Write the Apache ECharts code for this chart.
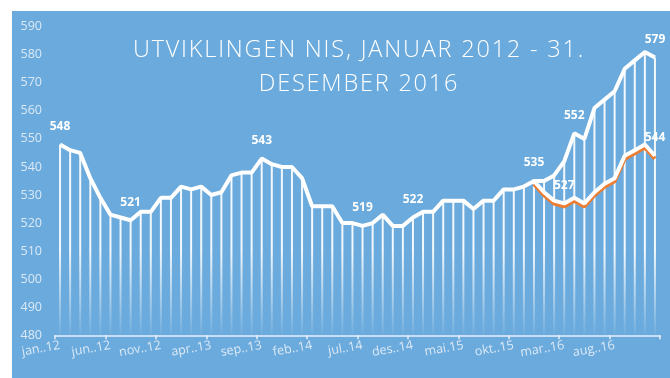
<!DOCTYPE html>
<html>
<head>
<meta charset="utf-8">
<script src="https://cdn.jsdelivr.net/npm/echarts@6/dist/echarts.min.js"></script>
<style>
  html, body { margin: 0; padding: 0; background: #ffffff; }
  #chart { width: 670px; height: 378px; }
</style>
</head>
<body>
<div id="chart"></div>
<script>
// Monthly categories, January 2012 - December 2016
const categories = [
  'jan..12','feb..12','mar..12','apr..12','mai.12','jun..12','jul..12','aug..12','sep..12','okt..12','nov..12','des..12',
  'jan..13','feb..13','mar..13','apr..13','mai.13','jun..13','jul..13','aug..13','sep..13','okt..13','nov..13','des..13',
  'jan..14','feb..14','mar..14','apr..14','mai.14','jun..14','jul..14','aug..14','sep..14','okt..14','nov..14','des..14',
  'jan..15','feb..15','mar..15','apr..15','mai.15','jun..15','jul..15','aug..15','sep..15','okt..15','nov..15','des..15',
  'jan..16','feb..16','mar..16','apr..16','mai.16','jun..16','jul..16','aug..16','sep..16','okt..16','nov..16','des..16'
];

// NIS total per month
const nisTotal = [
  548, 546, 545, 536, 529, 523, 522, 521, 524, 524, 529, 529,
  533, 532, 533, 530, 531, 537, 538, 538, 543, 541, 540, 540,
  536, 526, 526, 526, 520, 520, 519, 520, 523, 519, 519, 522,
  524, 524, 528, 528, 528, 525, 528, 528, 532, 532, 533, 535,
  535, 537, 542, 552, 550, 561, 564, 567, 575, 578, 581, 579
];

// Second series, from des..15 onwards
const nisOrange = [
  null, null, null, null, null, null, null, null, null, null, null, null,
  null, null, null, null, null, null, null, null, null, null, null, null,
  null, null, null, null, null, null, null, null, null, null, null, null,
  null, null, null, null, null, null, null, null, null, null, null, 535,
  531, 528, 527, 529, 527, 531, 534, 536, 544, 546, 548, 544
];

// Indices that carry a value label
const totalLabelIdx = [0, 7, 20, 30, 35, 47, 51, 59];
const orangeLabelIdx = [50, 59];

const yTicks = { min: 480, max: 590, step: 10 };

const titleText = 'UTVIKLINGEN NIS, JANUAR 2012 - 31.\nDESEMBER 2016';
const TITLE_FONT = '300 23.5px "Open Sans"';

const BG = '#6aaadc';
const PALE = '#dce9f6';

// Give the title a wider letter tracking when it is painted on the canvas;
// every other text is painted with normal tracking.
(function () {
  const proto = CanvasRenderingContext2D.prototype;
  const baseFill = proto.fillText;
  proto.fillText = function (t, x, y, w) {
    if ('letterSpacing' in this) {
      this.letterSpacing = this.font.indexOf('23.5px') >= 0 ? '1.8px' : '0px';
    }
    const r = w === undefined ? baseFill.call(this, t, x, y) : baseFill.call(this, t, x, y, w);
    if ('letterSpacing' in this) this.letterSpacing = '0px';
    return r;
  };
})();

function withLabels(values, idx) {
  return values.map((v, i) => idx.includes(i) ? { value: v, label: { show: true } } : v);
}

const chart = echarts.init(document.getElementById('chart'), null, { renderer: 'canvas' });

const valueLabel = {
  show: false,
  position: 'top',
  distance: 12,
  color: '#ffffff',
  fontFamily: 'Open Sans',
  fontWeight: 'bold',
  fontSize: 12,
  formatter: p => String(p.value)
};

chart.setOption({
  animation: false,
  backgroundColor: '#ffffff',
  graphic: [
    {
      type: 'rect', z: -1, silent: true,
      shape: { x: 12, y: 11, width: 658, height: 367 },
      style: { fill: BG }
    },
    {
      type: 'text', z: 1, silent: true,
      x: 359, y: 33,
      style: {
        text: titleText,
        fill: '#ffffff',
        font: TITLE_FONT,
        textAlign: 'center',
        textVerticalAlign: 'top',
        lineHeight: 34
      }
    }
  ],
  grid: { left: 55, right: 10, top: 26.7, bottom: 42.7 },
  xAxis: {
    type: 'category',
    data: categories,
    boundaryGap: true,
    axisLine: { lineStyle: { color: '#e8f0f9', width: 1.5 } },
    axisTick: { show: true, interval: 4, length: 4, lineStyle: { color: '#e8f0f9', width: 1.5 } },
    axisLabel: {
      interval: 4, rotate: 10, margin: 10,
      color: PALE, fontFamily: 'Open Sans', fontSize: 12.5
    },
    splitLine: { show: false }
  },
  yAxis: {
    type: 'value',
    min: yTicks.min, max: yTicks.max, interval: yTicks.step,
    axisLine: { show: false },
    axisTick: { show: false },
    splitLine: { show: false },
    axisLabel: { color: PALE, fontFamily: 'Open Sans', fontSize: 12.5, margin: 13 }
  },
  series: [
    {
      name: 'drop',
      type: 'bar',
      data: nisTotal,
      barWidth: 2,
      silent: true,
      itemStyle: {
        color: {
          type: 'linear', global: true,
          x: 0, y: 250, x2: 0, y2: 335,
          colorStops: [
            { offset: 0, color: 'rgba(255,255,255,0.92)' },
            { offset: 1, color: 'rgba(255,255,255,0.04)' }
          ]
        }
      },
      z: 2
    },
    {
      name: 'NIS',
      type: 'line',
      data: withLabels(nisTotal, totalLabelIdx),
      symbol: 'circle',
      symbolSize: 0.1,
      itemStyle: { color: 'rgba(255,255,255,0)' },
      lineStyle: { color: '#ffffff', width: 4 },
      label: valueLabel,
      z: 3
    },
    {
      name: 'NIS 2',
      type: 'line',
      data: withLabels(nisOrange, orangeLabelIdx),
      symbol: 'circle',
      symbolSize: 0.1,
      itemStyle: { color: 'rgba(255,255,255,0)' },
      lineStyle: {
        color: '#ffffff', width: 4,
        shadowColor: '#ed7d31', shadowBlur: 0, shadowOffsetX: 0, shadowOffsetY: 3
      },
      label: valueLabel,
      z: 4
    }
  ]
});
</script>
</body>
</html>
